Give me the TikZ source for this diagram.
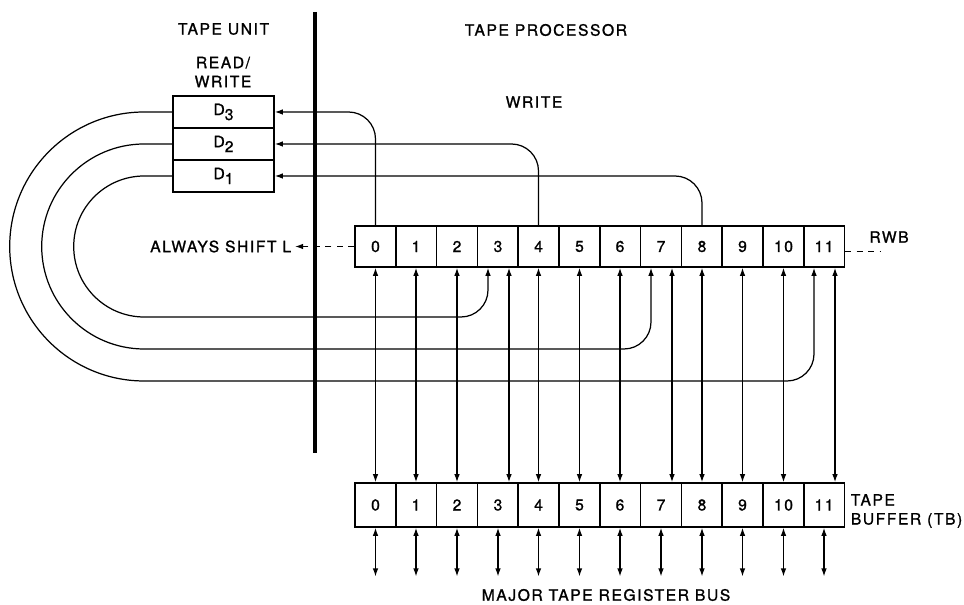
\documentclass[tikz,border=0pt]{standalone}
\usepackage{fontspec}
\usepackage{tikz}
\usetikzlibrary{arrows.meta,positioning,calc}
\newfontfamily\drawfont{TeX Gyre Heros}[LetterSpace=10.0,FakeBold=1.2]
\newcommand{\plate}{\drawfont\fontsize{8.9}{10.8}\selectfont}

\begin{document}
\begin{tikzpicture}[
    bit/.style={
      draw,
      line width=0.9pt,
      minimum width=0.816cm,
      minimum height=#1,
      inner sep=0pt,
      font=\plate
    },
    head/.style={
      draw,
      line width=0.9pt,
      minimum width=2.02cm,
      minimum height=0.64cm,
      inner sep=0pt,
      font=\plate
    },
    lbl/.style={font=\plate, align=center, inner sep=2pt},
    arr/.style={
      -{Latex[length=1.6mm,width=1.1mm]},
      line width=0.7pt
    },
    darr/.style={
      {Latex[length=1.6mm,width=1.1mm]}-{Latex[length=1.6mm,width=1.1mm]},
      line width=0.7pt
    },
    dsh/.style={dash pattern=on 1.2mm off 1.1mm, line width=0.7pt},
    wall/.style={line width=1.9pt}
  ]

  \useasboundingbox (0,0) rectangle (19.28,12.1);

  % divider between the two units
  \coordinate (walltop) at (6.30,11.86);
  \coordinate (wallbot) at (6.30,3.04);
  \draw[wall] (walltop) -- (wallbot);

  % titles
  \node[lbl] (unit) at (4.47,11.52) {TAPE UNIT};
  \node[lbl, anchor=west] (proc) at (9.22,11.50) {TAPE PROCESSOR};
  \node[lbl] (rw) at (4.46,10.66) {READ/\\WRITE};
  \node[lbl] (write) at (10.68,10.06) {WRITE};

  % read/write heads
  \node[head] (d3) at (4.47,9.86) {D\raisebox{-0.6ex}{3}};
  \node[head] (d2) at (4.47,9.22) {D\raisebox{-0.6ex}{2}};
  \node[head] (d1) at (4.47,8.58) {D\raisebox{-0.6ex}{1}};

  % RWB
  \node[bit=0.82cm] (rwb0)  at ( 7.51,7.17) {0};
  \node[bit=0.82cm] (rwb1)  at ( 8.32,7.17) {1};
  \node[bit=0.82cm] (rwb2)  at ( 9.14,7.17) {2};
  \node[bit=0.82cm] (rwb3)  at ( 9.96,7.17) {3};
  \node[bit=0.82cm] (rwb4)  at (10.77,7.17) {4};
  \node[bit=0.82cm] (rwb5)  at (11.59,7.17) {5};
  \node[bit=0.82cm] (rwb6)  at (12.40,7.17) {6};
  \node[bit=0.82cm] (rwb7)  at (13.22,7.17) {7};
  \node[bit=0.82cm] (rwb8)  at (14.04,7.17) {8};
  \node[bit=0.82cm] (rwb9)  at (14.85,7.17) {9};
  \node[bit=0.82cm] (rwb10) at (15.67,7.17) {10};
  \node[bit=0.82cm] (rwb11) at (16.48,7.17) {11};

  % tape buffer
  \node[bit=0.88cm] (tb0)  at ( 7.51,2.00) {0};
  \node[bit=0.88cm] (tb1)  at ( 8.32,2.00) {1};
  \node[bit=0.88cm] (tb2)  at ( 9.14,2.00) {2};
  \node[bit=0.88cm] (tb3)  at ( 9.96,2.00) {3};
  \node[bit=0.88cm] (tb4)  at (10.77,2.00) {4};
  \node[bit=0.88cm] (tb5)  at (11.59,2.00) {5};
  \node[bit=0.88cm] (tb6)  at (12.40,2.00) {6};
  \node[bit=0.88cm] (tb7)  at (13.22,2.00) {7};
  \node[bit=0.88cm] (tb8)  at (14.04,2.00) {8};
  \node[bit=0.88cm] (tb9)  at (14.85,2.00) {9};
  \node[bit=0.88cm] (tb10) at (15.67,2.00) {10};
  \node[bit=0.88cm] (tb11) at (16.48,2.00) {11};

  % side labels
  \node[lbl, anchor=east] (shift) at (5.90,7.17) {ALWAYS SHIFT L};
  \node[lbl] (rwb) at (17.78,7.36) {RWB};
  \coordinate (rwbend) at (17.60,7.07);
  \node[lbl, anchor=west, align=left] (tbl) at (16.94,1.88) {TAPE\\BUFFER (TB)};
  \node[lbl] (bus) at (12.12,0.20) {MAJOR TAPE REGISTER BUS};
  \coordinate (busline) at (0,0.57);

  % shift and end marks
  \draw[arr, dsh] (rwb0.west) -- (shift.east);
  \draw[dsh] (rwb11.east |- rwbend) -- (rwbend);

  % write paths
  \draw[arr, rounded corners=0.54cm] (rwb0.north) |- (d3.east);
  \draw[arr, rounded corners=0.54cm] (rwb4.north) |- (d2.east);
  \draw[arr, rounded corners=0.54cm] (rwb8.north) |- (d1.east);

  % read paths
  \draw[arr] (d1.west) -- ++(-0.56,0) arc[start angle=90, end angle=270, radius=1.41]
    [rounded corners=0.54cm] -| ([xshift=-0.2cm]rwb3.south);
  \draw[arr] (d2.west) -- ++(-0.56,0) arc[start angle=90, end angle=270, radius=2.05]
    [rounded corners=0.54cm] -| ([xshift=-0.2cm]rwb7.south);
  \draw[arr] (d3.west) -- ++(-0.56,0) arc[start angle=90, end angle=270, radius=2.69]
    [rounded corners=0.54cm] -| ([xshift=-0.2cm]rwb11.south);

  % RWB <-> TB
  \draw[darr] (tb0.north) -- (rwb0.south);
  \draw[darr] (tb1.north) -- (rwb1.south);
  \draw[darr] (tb2.north) -- (rwb2.south);
  \draw[darr] ([xshift=0.22cm]tb3.north) -- ([xshift=0.22cm]rwb3.south);
  \draw[darr] (tb4.north) -- (rwb4.south);
  \draw[darr] (tb5.north) -- (rwb5.south);
  \draw[darr] (tb6.north) -- (rwb6.south);
  \draw[darr] ([xshift=0.22cm]tb7.north) -- ([xshift=0.22cm]rwb7.south);
  \draw[darr] (tb8.north) -- (rwb8.south);
  \draw[darr] (tb9.north) -- (rwb9.south);
  \draw[darr] (tb10.north) -- (rwb10.south);
  \draw[darr] ([xshift=0.22cm]tb11.north) -- ([xshift=0.22cm]rwb11.south);

  % TB <-> bus
  \draw[darr] (tb0.south) -- (tb0.south |- busline);
  \draw[darr] (tb1.south) -- (tb1.south |- busline);
  \draw[darr] (tb2.south) -- (tb2.south |- busline);
  \draw[darr] (tb3.south) -- (tb3.south |- busline);
  \draw[darr] (tb4.south) -- (tb4.south |- busline);
  \draw[darr] (tb5.south) -- (tb5.south |- busline);
  \draw[darr] (tb6.south) -- (tb6.south |- busline);
  \draw[darr] (tb7.south) -- (tb7.south |- busline);
  \draw[darr] (tb8.south) -- (tb8.south |- busline);
  \draw[darr] (tb9.south) -- (tb9.south |- busline);
  \draw[darr] (tb10.south) -- (tb10.south |- busline);
  \draw[darr] (tb11.south) -- (tb11.south |- busline);

\end{tikzpicture}
\end{document}
